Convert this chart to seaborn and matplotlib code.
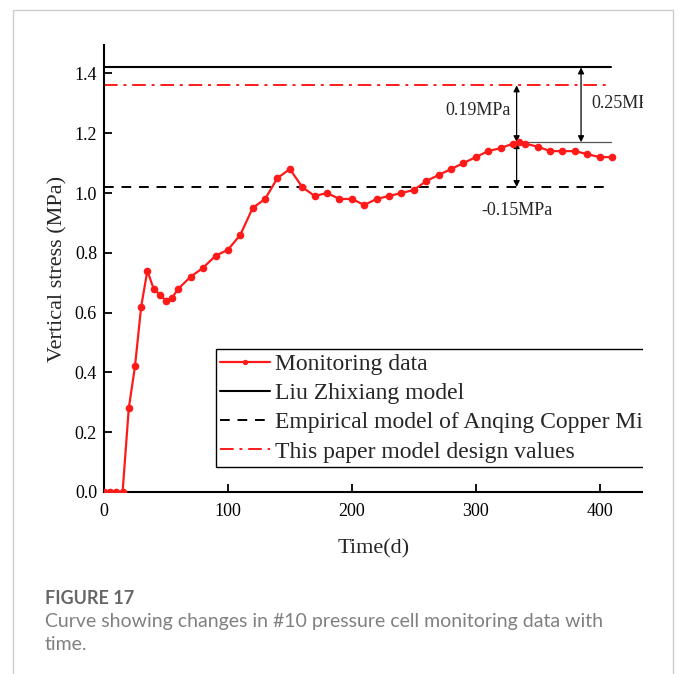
import matplotlib
matplotlib.use("Agg")
import matplotlib.pyplot as plt
from matplotlib.patches import Rectangle
import seaborn as sns
import pandas as pd

# ---- data ----
days = [0, 5, 10, 15, 20, 25, 30, 35, 40, 45, 50, 55, 60, 70, 80, 90, 100, 110,
        120, 130, 140, 150, 160, 170, 180, 190, 200, 210, 220, 230, 240, 250,
        260, 270, 280, 290, 300, 310, 320, 330, 335, 340, 350, 360, 370, 380,
        390, 400, 410]
stress = [0.0, 0.0, 0.0, 0.0, 0.28, 0.42, 0.62, 0.74, 0.68, 0.66, 0.64, 0.65,
          0.68, 0.72, 0.75, 0.79, 0.81, 0.86, 0.95, 0.98, 1.05, 1.08, 1.02,
          0.99, 1.00, 0.98, 0.98, 0.96, 0.98, 0.99, 1.00, 1.01, 1.04, 1.06,
          1.08, 1.10, 1.12, 1.14, 1.15, 1.165, 1.17, 1.165, 1.155, 1.14, 1.14,
          1.14, 1.13, 1.12, 1.12]
liu_value = 1.42
empirical_value = 1.02
paper_value = 1.36
peak_value = 1.17
line_end = 409
series_labels = ["Monitoring data", "Liu Zhixiang model",
                 "Empirical model of Anqing Copper Mine",
                 "This paper model design values"]
xticks = [0, 100, 200, 300, 400]
yticks = [0.0, 0.2, 0.4, 0.6, 0.8, 1.0, 1.2, 1.4]

W, H = 680, 674
sns.set_style("ticks")
plt.rcParams["font.family"] = ["Liberation Serif", "DejaVu Serif"]
plt.rcParams["xtick.direction"] = "in"
plt.rcParams["ytick.direction"] = "in"

fig = plt.figure(figsize=(W / 100, H / 100), dpi=100)
ax = fig.add_axes([104 / W, 1 - 492 / H, (643 - 104) / W, (492 - 45) / H])

df = pd.DataFrame({"Time": days, "Stress": stress})
sns.lineplot(data=df, x="Time", y="Stress", ax=ax, color="#ff1a1a", lw=1.6,
             marker="o", markersize=5.5, markeredgewidth=0,
             label=series_labels[0], zorder=4)
ax.plot([0, line_end], [liu_value] * 2, color="black", lw=1.5, label=series_labels[1])
ax.plot([0, line_end], [empirical_value] * 2, color="black", lw=1.4,
        ls=(0, (5, 4)), label=series_labels[2])
ax.plot([0, line_end], [paper_value] * 2, color="#ff1a1a", lw=1.4,
        ls=(0, (7, 3, 1.5, 3)), label=series_labels[3])

# annotation lines / arrows
ax.plot([335, line_end], [peak_value] * 2, color="#555555", lw=0.9)
arrow_kw = dict(arrowstyle="<|-|>", color="black", lw=0.9, mutation_scale=9,
                shrinkA=0, shrinkB=0)
ax.annotate("", xy=(385, liu_value), xytext=(385, peak_value), arrowprops=arrow_kw)
ax.annotate("", xy=(333, paper_value), xytext=(333, peak_value), arrowprops=arrow_kw)
ax.annotate("", xy=(333, empirical_value), xytext=(333, peak_value), arrowprops=arrow_kw)
ax.text(328, 1.275, "0.19MPa", ha="right", va="center", fontsize=13)
ax.text(393, 1.30, "0.25MPa", ha="left", va="center", fontsize=13)
ax.text(333, 0.94, "-0.15MPa", ha="center", va="center", fontsize=13)

ax.set_xlim(0, 435)
ax.set_ylim(0, 1.495)
ax.set_xticks(xticks)
ax.set_yticks(yticks)
ax.set_yticklabels([f"{v:.1f}" for v in yticks])
ax.tick_params(axis="x", labelsize=13, length=6, width=1.3, colors="black", pad=8)
ax.tick_params(axis="y", labelsize=13, length=6, width=1.3, colors="black", pad=5)
for s in ["left", "bottom"]:
    ax.spines[s].set_linewidth(1.5)
    ax.spines[s].set_color("black")
sns.despine(ax=ax)
ax.set_xlabel("Time(d)", fontsize=16, labelpad=14)
ax.set_ylabel("Vertical stress (MPa)", fontsize=16, labelpad=5)

leg = ax.legend(loc="upper left", bbox_to_anchor=((216 - 104) / 539, (492 - 349) / 447),
                fontsize=17, frameon=True, fancybox=False, edgecolor="black",
                framealpha=1, handlelength=2.1, handletextpad=0.2,
                labelspacing=0.33, borderpad=0.18, borderaxespad=0, markerscale=0.7)
leg.get_frame().set_linewidth(1.0)

# crop of the original picture at the right edge
fig.patches.append(Rectangle((643 / W, 0.2), 1.0, 0.8,
                             transform=fig.transFigure, facecolor="white",
                             edgecolor="none", zorder=5))
# light border around the panel
fig.patches.append(Rectangle((13 / W, -0.01), (673 - 13) / W, 1 - 10 / H + 0.01,
                             transform=fig.transFigure, facecolor="none",
                             edgecolor="#cccccc", lw=1.0, zorder=6))

fig.text(45 / W, 1 - 599 / H, "FIGURE 17", fontsize=13, color="#666666",
         family=["Lato", "DejaVu Sans"], fontweight="bold", va="center")
fig.text(45 / W, 1 - 621 / H,
         "Curve showing changes in #10 pressure cell monitoring data with",
         fontsize=14, color="#808080", family=["Lato", "DejaVu Sans"], va="center")
fig.text(45 / W, 1 - 645 / H, "time.", fontsize=14, color="#808080",
         family=["Lato", "DejaVu Sans"], va="center")

fig.savefig("out.png", dpi=100)
